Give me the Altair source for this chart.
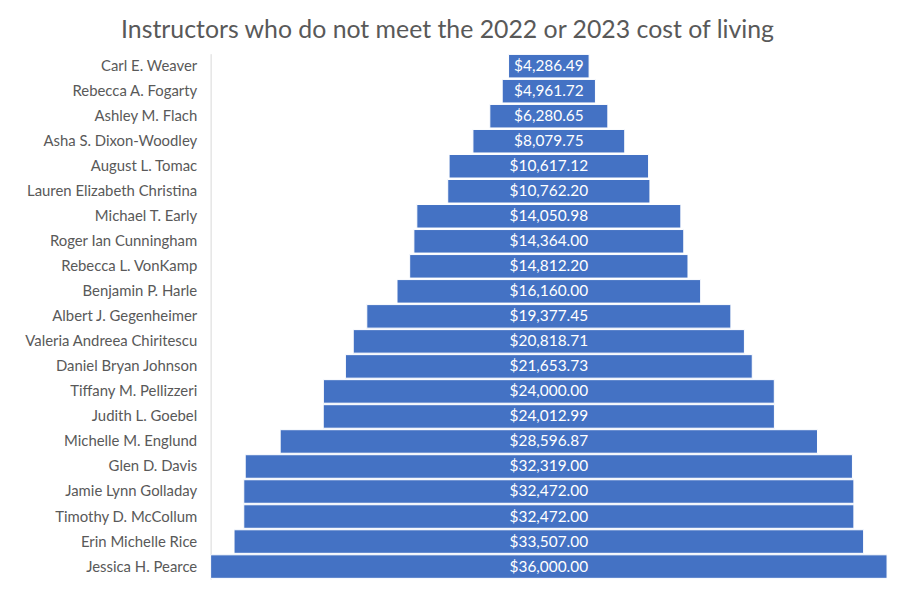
import altair as alt
import pandas as pd

names = [
    "Carl E. Weaver", "Rebecca A. Fogarty", "Ashley M. Flach", "Asha S. Dixon-Woodley",
    "August L. Tomac", "Lauren Elizabeth Christina", "Michael T. Early",
    "Roger Ian Cunningham", "Rebecca L. VonKamp", "Benjamin P. Harle",
    "Albert J. Gegenheimer", "Valeria Andreea Chiritescu", "Daniel Bryan Johnson",
    "Tiffany M. Pellizzeri", "Judith L. Goebel", "Michelle M. Englund",
    "Glen D. Davis", "Jamie Lynn Golladay", "Timothy D. McCollum",
    "Erin Michelle Rice", "Jessica H. Pearce",
]
amounts = [
    4286.49, 4961.72, 6280.65, 8079.75, 10617.12, 10762.20, 14050.98, 14364.00,
    14812.20, 16160.00, 19377.45, 20818.71, 21653.73, 24000.00, 24012.99,
    28596.87, 32319.00, 32472.00, 32472.00, 33507.00, 36000.00,
]

df = pd.DataFrame({"name": names, "amount": amounts})
df["lo"] = -df["amount"] / 2
df["hi"] = df["amount"] / 2
df["mid"] = 0.0
df["label"] = df["amount"].map(lambda v: "${:,.2f}".format(v))

FONT = "Lato"
GRAY = "#595959"

xscale = alt.Scale(domain=[-18000, 18000], nice=False, zero=False)
yenc = alt.Y("name:N", sort=names,
             scale=alt.Scale(paddingInner=0.06, paddingOuter=0.03),
             axis=alt.Axis(title=None, ticks=False, labelFontSize=15, labelFont=FONT,
                           labelColor=GRAY, labelPadding=14, domainColor="#d9d9d9",
                           grid=False))

base = alt.Chart(df)
bars = base.mark_bar(color="#4472C4", stroke="white", strokeWidth=1).encode(
    x=alt.X("lo:Q", scale=xscale, axis=None),
    x2="hi:Q",
    y=yenc,
)
text = base.mark_text(color="white", fontSize=15.5, font=FONT).encode(
    x=alt.X("mid:Q", scale=xscale, axis=None),
    y=alt.Y("name:N", sort=names),
    text="label:N",
)

chart = (bars + text).properties(
    width=681, height=529,
    title=alt.TitleParams("Instructors who do not meet the 2022 or 2023 cost of living",
                          fontSize=25, font=FONT, fontWeight="normal", color=GRAY,
                          anchor="middle", dx=-102, offset=11),
    padding={"left": 204, "top": 44, "right": 5, "bottom": 5},
    autosize="none",
).configure_view(stroke=None)

chart.save("out.html", embed_options={"renderer": "svg", "actions": False})
